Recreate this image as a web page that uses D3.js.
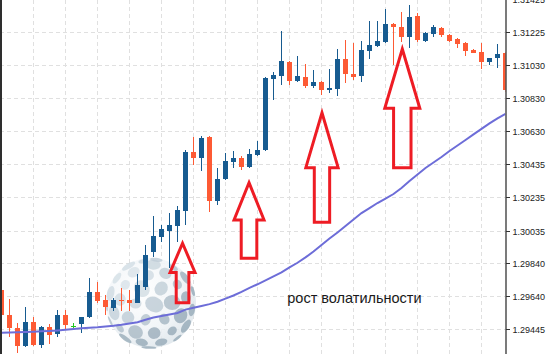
<!DOCTYPE html>
<html><head><meta charset="utf-8">
<script src="https://cdn.jsdelivr.net/npm/d3@7/dist/d3.min.js"></script>
<style>
html,body{margin:0;padding:0;background:#fff;overflow:hidden}
svg{display:block}
</style></head><body>
<svg id="c" width="547" height="354"></svg>
<script>
// ---- data ----
const opens = [1.29679,1.29529,1.29451,1.29343,1.29487,1.29349,1.29457,1.29415,1.29529,1.29463,
1.29475,1.29517,1.29667,1.29619,1.29571,1.29619,1.29619,1.29601,1.29697,1.29907,
1.29996,1.30032,1.30062,1.30152,1.30506,1.30470,1.30596,1.30212,1.30344,1.30446,
1.30470,1.30416,1.30488,1.30518,1.30943,1.30961,1.31045,1.30931,1.30955,1.30901,
1.30925,1.30877,1.30883,1.31063,1.30973,1.30961,1.31111,1.31141,1.31165,1.31273,
1.31255,1.31195,1.31321,1.31171,1.31213,1.31249,1.31207,1.31183,1.31159,1.31117,
1.31105,1.31045,1.31069,1.31099];
const highs = [1.29715,1.29625,1.29481,1.29577,1.29517,1.29463,1.29475,1.29559,1.29559,1.29481,
1.29517,1.29751,1.29727,1.29649,1.29631,1.29691,1.29679,1.29775,1.29948,1.30122,
1.30068,1.30140,1.30182,1.30518,1.30596,1.30602,1.30602,1.30410,1.30500,1.30512,
1.30482,1.30524,1.30572,1.30955,1.30985,1.31231,1.31051,1.31081,1.31033,1.30997,
1.30931,1.31003,1.31123,1.31177,1.31159,1.31171,1.31291,1.31291,1.31363,1.31279,
1.31345,1.31387,1.31339,1.31225,1.31267,1.31255,1.31213,1.31189,1.31165,1.31123,
1.31159,1.31069,1.31153,1.31105];
const lows = [1.29469,1.29397,1.29301,1.29337,1.29343,1.29331,1.29355,1.29397,1.29445,1.29445,
1.29421,1.29511,1.29601,1.29529,1.29553,1.29553,1.29553,1.29601,1.29679,1.29877,
1.29966,1.29811,1.29966,1.30068,1.30428,1.30392,1.30146,1.30188,1.30338,1.30410,
1.30398,1.30410,1.30482,1.30512,1.30817,1.30907,1.30907,1.30925,1.30889,1.30889,
1.30847,1.30859,1.30841,1.30919,1.30937,1.30925,1.31063,1.31135,1.31159,1.31027,
1.31165,1.31129,1.31165,1.31165,1.31195,1.31195,1.31165,1.31129,1.31081,1.31099,
1.31003,1.31027,1.31009,1.30865];
const closes = [1.29529,1.29451,1.29343,1.29487,1.29349,1.29457,1.29409,1.29529,1.29469,1.29463,
1.29517,1.29667,1.29613,1.29577,1.29619,1.29613,1.29601,1.29709,1.29889,1.30002,
1.30044,1.30068,1.30158,1.30506,1.30470,1.30590,1.30212,1.30344,1.30452,1.30470,
1.30416,1.30494,1.30518,1.30949,1.30967,1.31051,1.30931,1.30961,1.30901,1.30925,
1.30877,1.30889,1.31063,1.30973,1.30955,1.31117,1.31147,1.31171,1.31273,1.31255,
1.31195,1.31315,1.31177,1.31219,1.31255,1.31207,1.31171,1.31153,1.31111,1.31102,
1.31045,1.31069,1.31093,1.30877];
const maValues = [1.29423,1.29424,1.29425,1.29427,1.29429,1.29431,1.29433,1.29436,1.29440,1.29445,
1.29450,1.29452,1.29455,1.29460,1.29464,1.29470,1.29478,1.29486,1.29500,1.29514,
1.29523,1.29532,1.29541,1.29561,1.29572,1.29583,1.29594,1.29608,1.29627,1.29646,
1.29668,1.29692,1.29713,1.29736,1.29760,1.29784,1.29814,1.29842,1.29874,1.29909,
1.29949,1.29987,1.30023,1.30062,1.30101,1.30140,1.30170,1.30200,1.30227,1.30254,
1.30290,1.30332,1.30371,1.30410,1.30443,1.30476,1.30512,1.30545,1.30578,1.30611,
1.30644,1.30677,1.30707,1.30734];
const tickLabels = ["1.31425","1.31225","1.31030","1.30830","1.30630","1.30435","1.30235","1.30035","1.29840","1.29640","1.29445"];
const annotationText = "рост волатильности";
const annotationAt = {index: 35.72, price: 1.29603};
// arrows: tip/head/base prices, centre as bar index, half widths in bars
const arrows = [
  {index: 22.63, tip: 1.29959, head: 1.29784, base: 1.29603, headHalf: 1.56, shaftHalf: 0.79},
  {index: 30.94, tip: 1.30322, head: 1.30098, base: 1.29869, headHalf: 1.875, shaftHalf: 0.975},
  {index: 40.06, tip: 1.30741, head: 1.30412, base: 1.30085, headHalf: 2.02, shaftHalf: 0.96},
  {index: 50.10, tip: 1.31123, head: 1.30768, base: 1.30412, headHalf: 2.19, shaftHalf: 1.09}
];

// ---- chart ----
const W = 547, H = 354, axisX = 506;
const BULL = "#175b90", BEAR = "#fd5a34", DOJI = "#22c522";
const svg = d3.select("#c");
const x = d3.scaleLinear().domain([0, opens.length - 1]).range([1.5, 1.5 + 8 * (opens.length - 1)]);
const y = d3.scaleLinear().domain([1.29445, 1.31225]).range([329, 32]);
const bar = x(1) - x(0);
const tickVals = tickLabels.map(Number);
const snap = v => Math.round(y(v)) + 0.5;

const defs = svg.append("defs");
defs.append("clipPath").attr("id", "plot").append("rect")
  .attr("x", 0).attr("y", 0).attr("width", axisX - 0.6).attr("height", H);
const rg = defs.append("radialGradient").attr("id", "globeFill")
  .attr("cx", "38%").attr("cy", "36%").attr("r", "70%");
rg.append("stop").attr("offset", "0%").attr("stop-color", "#ffffff").attr("stop-opacity", 0.95);
rg.append("stop").attr("offset", "65%").attr("stop-color", "#f0f4f7").attr("stop-opacity", 0.9);
rg.append("stop").attr("offset", "100%").attr("stop-color", "#d8e1e7").attr("stop-opacity", 0.75);

const plot = svg.append("g").attr("clip-path", "url(#plot)");

// grid
const grid = plot.append("g").attr("stroke", "#e0e0e0").attr("stroke-width", 1).attr("stroke-dasharray", "4,3");
grid.selectAll("line.h").data(tickVals).join("line").attr("class", "h")
  .attr("x1", 0).attr("x2", axisX).attr("y1", snap).attr("y2", snap);
const vIdx = d3.range(4, opens.length, 4);
grid.selectAll("line.v").data(vIdx).join("line").attr("class", "v")
  .attr("x1", d => x(d)).attr("x2", d => x(d)).attr("y1", 0).attr("y2", H);

// watermark globe
(function drawGlobe() {
  const gx = 151, gy = 303, gr = 45;
  const g = plot.append("g");
  g.append("circle").attr("cx", gx).attr("cy", gy).attr("r", gr).attr("fill", "url(#globeFill)");
  const tilt = 22 * Math.PI / 180;
  const L = [-0.55, 0.55, 0.63];
  const shade = d3.interpolateRgb("#94a8b6", "#d8e2e9");
  let n = 0;
  for (let lat = -80; lat <= 80; lat += 20) {
    const phi = lat * Math.PI / 180;
    const count = Math.max(1, Math.round(15 * Math.cos(phi)));
    const off = ((lat / 20) % 2 === 0) ? 0 : 0.5;
    for (let j = 0; j < count; j++) {
      const lam = (j + off) / count * 2 * Math.PI + 0.3;
      let px = Math.cos(phi) * Math.sin(lam), py = Math.sin(phi), pz = Math.cos(phi) * Math.cos(lam);
      const py2 = py * Math.cos(tilt) - pz * Math.sin(tilt);
      const pz2 = py * Math.sin(tilt) + pz * Math.cos(tilt);
      if (pz2 < 0.08) continue;
      n++;
      const sx = gx + gr * px, sy = gy - gr * py2;
      const s = gr * (0.14 + 0.035 * ((n * 5) % 3));
      const ang = Math.atan2(-py2, px) * 180 / Math.PI;
      const lit = Math.max(0, Math.min(1, px * L[0] + py2 * L[1] + pz2 * L[2]));
      g.append("ellipse")
        .attr("cx", sx).attr("cy", sy)
        .attr("rx", Math.max(0.8, s * pz2)).attr("ry", s * 0.8)
        .attr("transform", `rotate(${ang},${sx},${sy})`)
        .attr("fill", shade(lit)).attr("fill-opacity", 0.78);
    }
  }
})();

// candles
const data = opens.map((o, i) => ({i, o, h: highs[i], l: lows[i], c: closes[i]}));
const col = d => d.c > d.o ? BULL : (d.c < d.o ? BEAR : DOJI);
const cg = plot.append("g").attr("shape-rendering", "crispEdges");
cg.selectAll("rect.w").data(data).join("rect").attr("class", "w")
  .attr("x", d => x(d.i) - 0.5).attr("width", 1)
  .attr("y", d => Math.round(y(d.h)))
  .attr("height", d => Math.max(1, Math.round(y(d.l)) - Math.round(y(d.h))))
  .attr("fill", col);
cg.selectAll("rect.b").data(data).join("rect").attr("class", "b")
  .attr("x", d => x(d.i) - 2.5).attr("width", 5)
  .attr("y", d => Math.round(y(Math.max(d.o, d.c))))
  .attr("height", d => Math.max(1, Math.round(y(Math.min(d.o, d.c))) - Math.round(y(Math.max(d.o, d.c)))))
  .attr("fill", col);

// moving average
plot.append("path").datum(maValues)
  .attr("d", d3.line().x((d, i) => x(i)).y(d => y(d)))
  .attr("fill", "none").attr("stroke", "#6d6dd8").attr("stroke-width", 2);

// arrows
plot.selectAll("path.arrow").data(arrows).join("path").attr("class", "arrow")
  .attr("d", a => {
    const cx = x(a.index), hw = a.headHalf * bar, sw = a.shaftHalf * bar;
    const ty = y(a.tip), hy = y(a.head), by = y(a.base);
    return `M${cx},${ty}L${cx + hw},${hy}L${cx + sw},${hy}L${cx + sw},${by}L${cx - sw},${by}L${cx - sw},${hy}L${cx - hw},${hy}Z`;
  })
  .attr("fill", "none").attr("stroke", "#ee1c24").attr("stroke-width", 3).attr("stroke-linejoin", "miter");

// annotation text
plot.append("text").attr("x", x(annotationAt.index)).attr("y", y(annotationAt.price))
  .attr("font-family", "'Liberation Sans', Arial, sans-serif").attr("font-size", 14.5)
  .attr("fill", "#1a1a1a").text(annotationText);

// left border
svg.append("rect").attr("x", 0).attr("y", 0).attr("width", 2).attr("height", H).attr("fill", "#2e2e2e");

// price axis
svg.append("line").attr("x1", axisX).attr("x2", axisX).attr("y1", 0).attr("y2", H)
  .attr("stroke", "#333").attr("stroke-width", 1.3);
const ax = svg.append("g");
ax.selectAll("line").data(tickVals).join("line")
  .attr("x1", axisX).attr("x2", axisX + 4).attr("y1", snap).attr("y2", snap)
  .attr("stroke", "#333").attr("stroke-width", 1);
ax.selectAll("text").data(tickLabels).join("text")
  .attr("x", axisX + 6.5).attr("y", d => snap(+d)).attr("dy", "0.36em")
  .attr("font-family", "'Liberation Sans', Arial, sans-serif")
  .attr("font-size", 9).attr("fill", "#222").text(d => d);
</script>
</body></html>
